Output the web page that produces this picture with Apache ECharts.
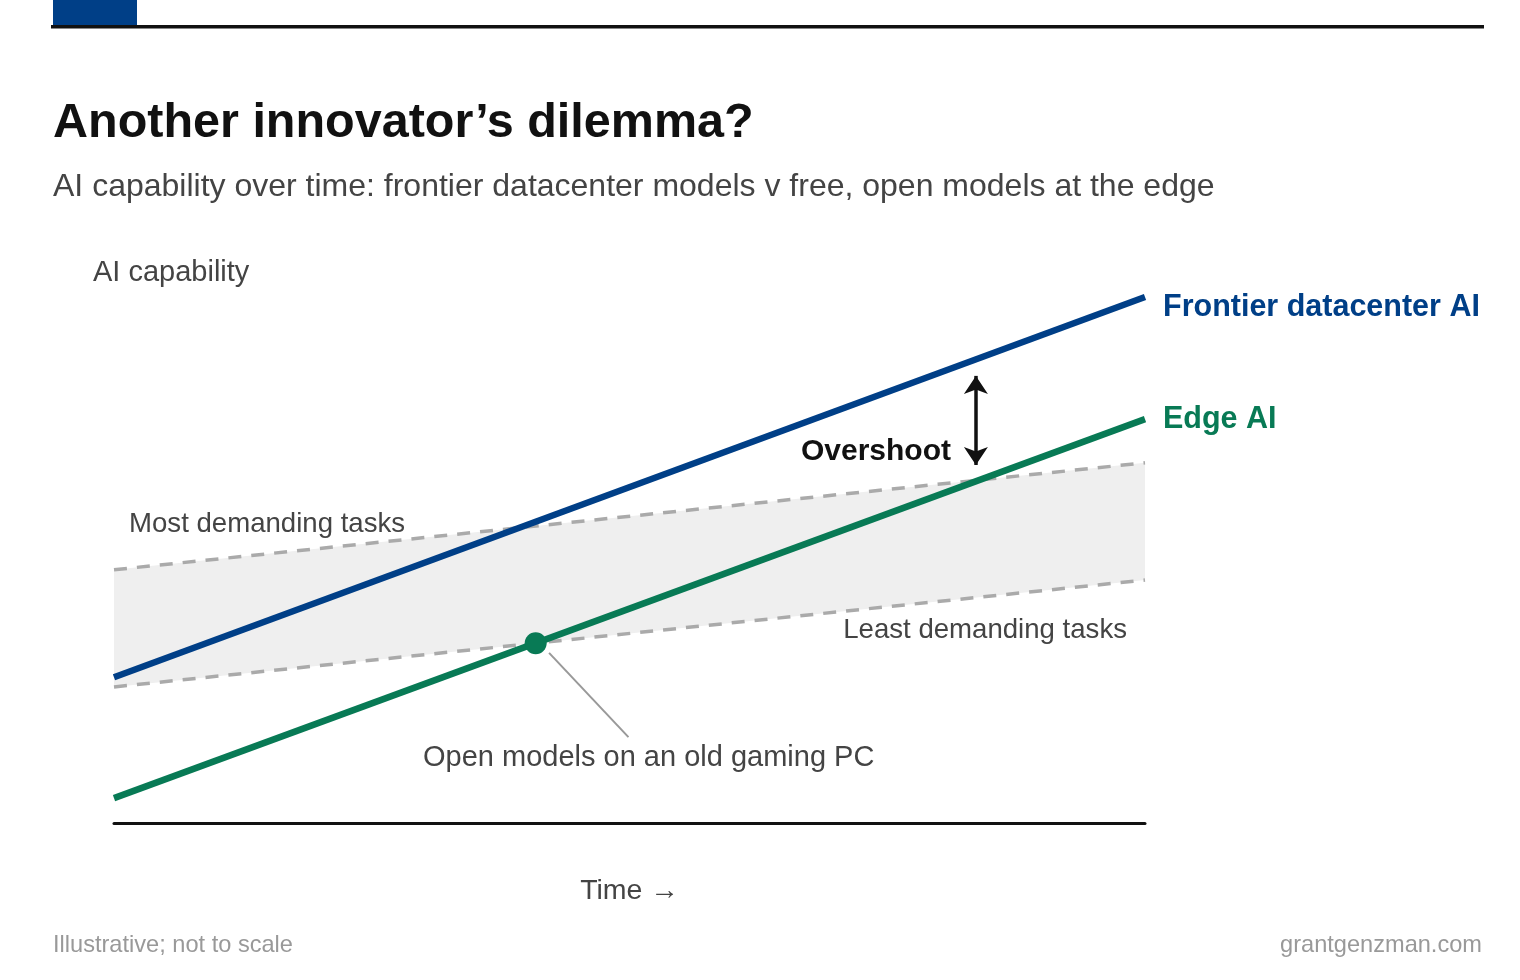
<!DOCTYPE html>
<html lang="en">
<head>
    <meta charset="UTF-8">
    <title>Another innovator's dilemma?</title>
    <script src="https://cdn.jsdelivr.net/npm/echarts@6/dist/echarts.min.js"></script>
    <style>
        html, body { margin: 0; padding: 0; background: #fff; }
        #main { width: 1520px; height: 980px; }
    </style>
</head>
<body>
    <div id="main"></div>
    <script>
        // illustrative values, x = time (0-100), y = capability (0-100)
        var timeX = [0, 100];
        var frontier = [27.0, 97.4];
        var edge = [4.6, 74.8];
        var mostDemanding = [46.9, 66.7];
        var leastDemanding = [25.2, 45.0];
        var crossPoint = [40.9, 33.3];
        var leaderLine = [[42.2, 31.5], [49.9, 15.9]];
        var overshootArrow = [[83.6, 82.8], [83.6, 66.3]];

        var font = "'Liberation Sans', Arial, sans-serif";
        var blue = '#003f87';
        var green = '#087a55';

        function pairs(ys) {
            return timeX.map(function (x, i) { return [x, ys[i]]; });
        }
        // band polygon: along the top edge, then back along the bottom edge
        var bandData = timeX.map(function (x, i) { return [x, leastDemanding[i], mostDemanding[i]]; });

        var myChart = echarts.init(document.getElementById('main'));
        var option = {
            animation: false,
            backgroundColor: '#fff',
            textStyle: { fontFamily: font },
            title: [{
                text: 'Another innovator\u2019s dilemma?',
                left: 53,
                top: 99,
                padding: 0,
                textStyle: { fontSize: 48.5, fontWeight: 'bold', color: '#111', fontFamily: font }
            }, {
                text: 'AI capability over time: frontier datacenter models v free, open models at the edge',
                left: 53,
                top: 171,
                padding: 0,
                textStyle: { fontSize: 32, fontWeight: 'normal', color: '#444', fontFamily: font }
            }],
            grid: { left: 114, right: 375, top: 283, bottom: 157 },
            xAxis: {
                type: 'value',
                min: 0,
                max: 100,
                name: 'Time \u2192',
                nameLocation: 'middle',
                nameGap: 54,
                nameTextStyle: { fontSize: 28.5, color: '#444', fontFamily: font },
                axisLine: { show: true, lineStyle: { color: '#111', width: 3 } },
                axisTick: { show: false },
                axisLabel: { show: false },
                splitLine: { show: false }
            },
            yAxis: {
                type: 'value',
                min: 0,
                max: 100,
                axisLine: { show: false },
                axisTick: { show: false },
                axisLabel: { show: false },
                splitLine: { show: false }
            },
            series: [
                {
                    type: 'custom',
                    data: bandData,
                    silent: true,
                    renderItem: function (params, api) {
                        if (params.dataIndex !== 0) return;
                        var top = [], bottom = [];
                        bandData.forEach(function (d) {
                            top.push(api.coord([d[0], d[2]]));
                            bottom.unshift(api.coord([d[0], d[1]]));
                        });
                        return {
                            type: 'polygon',
                            shape: { points: top.concat(bottom) },
                            style: { fill: '#efefef' }
                        };
                    },
                    z: 1
                },
                {
                    type: 'line',
                    data: pairs(mostDemanding),
                    symbol: 'none',
                    lineStyle: { color: '#aaaaaa', width: 3.5, type: [13, 10] },
                    z: 2
                },
                {
                    type: 'line',
                    data: pairs(leastDemanding),
                    symbol: 'none',
                    lineStyle: { color: '#aaaaaa', width: 3.5, type: [13, 10] },
                    z: 2
                },
                {
                    name: 'Frontier datacenter AI',
                    type: 'line',
                    data: pairs(frontier),
                    symbol: 'none',
                    lineStyle: { color: blue, width: 6.5, cap: 'butt' },
                    endLabel: {
                        show: true,
                        formatter: '{a}',
                        distance: 18,
                        offset: [0, 11],
                        color: blue,
                        fontSize: 30.5,
                        fontWeight: 'bold',
                        fontFamily: font
                    },
                    markLine: {
                        silent: true,
                        symbol: ['arrow', 'arrow'],
                        symbolSize: [18, 18],
                        label: { show: false },
                        lineStyle: { color: '#111', width: 3.5, type: 'solid' },
                        data: [[{ coord: overshootArrow[0] }, { coord: overshootArrow[1] }]]
                    },
                    z: 4
                },
                {
                    name: 'Edge AI',
                    type: 'line',
                    data: pairs(edge),
                    symbol: 'none',
                    lineStyle: { color: green, width: 6.5, cap: 'butt' },
                    endLabel: {
                        show: true,
                        formatter: '{a}',
                        distance: 18,
                        offset: [0, 1],
                        color: green,
                        fontSize: 30.5,
                        fontWeight: 'bold',
                        fontFamily: font
                    },
                    markLine: {
                        silent: true,
                        symbol: 'none',
                        label: { show: false },
                        lineStyle: { color: '#999', width: 2, type: 'solid' },
                        data: [[{ coord: leaderLine[0] }, { coord: leaderLine[1] }]]
                    },
                    z: 4
                },
                {
                    type: 'scatter',
                    data: [crossPoint],
                    symbolSize: 22,
                    itemStyle: { color: green, opacity: 1 },
                    z: 5
                }
            ],
            graphic: {
                elements: [
                    { type: 'rect', left: 53, top: 0, z: 100, shape: { width: 84, height: 25 }, style: { fill: blue } },
                    { type: 'rect', left: 51, top: 25, z: 100, shape: { width: 1433, height: 3.5 }, style: { fill: '#111' } },
                    {
                        type: 'text', x: 93, y: 273, z: 100,
                        style: { text: 'AI capability', font: '29px ' + font, fill: '#444', verticalAlign: 'middle' }
                    },
                    {
                        type: 'text', x: 129, y: 524, z: 100,
                        style: { text: 'Most demanding tasks', font: '27.6px ' + font, fill: '#444', verticalAlign: 'middle' }
                    },
                    {
                        type: 'text', x: 1127, y: 630, z: 100,
                        style: { text: 'Least demanding tasks', font: '27.6px ' + font, fill: '#444', align: 'right', verticalAlign: 'middle' }
                    },
                    {
                        type: 'text', x: 951, y: 452, z: 100,
                        style: { text: 'Overshoot', font: 'bold 30px ' + font, fill: '#111', align: 'right', verticalAlign: 'middle' }
                    },
                    {
                        type: 'text', x: 423, y: 758, z: 100,
                        style: { text: 'Open models on an old gaming PC', font: '29px ' + font, fill: '#444', verticalAlign: 'middle' }
                    },
                    {
                        type: 'text', x: 53, y: 945, z: 100,
                        style: { text: 'Illustrative; not to scale', font: '23.6px ' + font, fill: '#999', verticalAlign: 'middle' }
                    },
                    {
                        type: 'text', x: 1482, y: 945, z: 100,
                        style: { text: 'grantgenzman.com', font: '23.6px ' + font, fill: '#999', align: 'right', verticalAlign: 'middle' }
                    }
                ]
            }
        };
        myChart.setOption(option);
    </script>
</body>
</html>
